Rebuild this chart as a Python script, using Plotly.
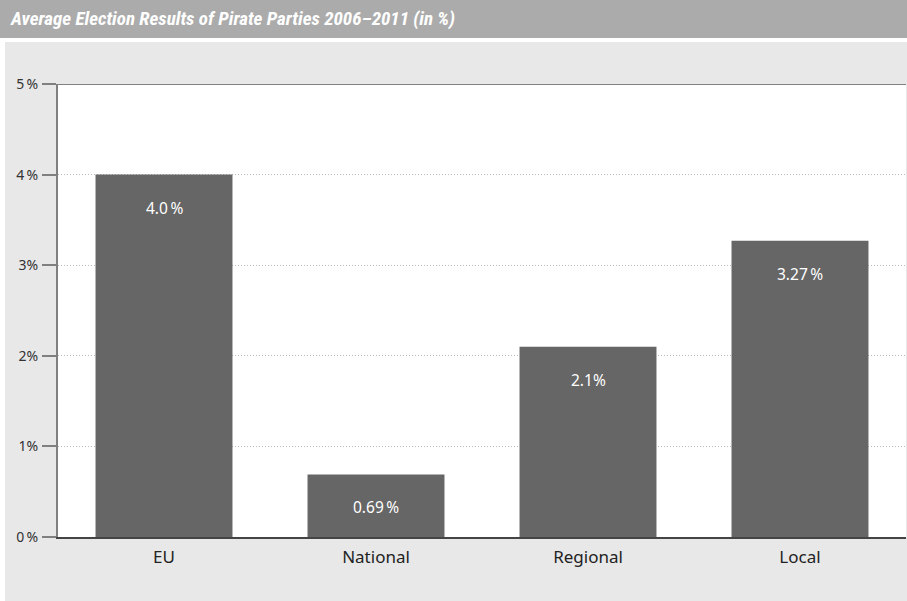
import plotly.graph_objects as go

categories = ["EU", "National", "Regional", "Local"]
values = [4.0, 0.69, 2.1, 3.27]
value_labels = ["4.0\u2009%", "0.69\u2009%", "2.1%", "3.27\u2009%"]
tick_vals = [0, 1, 2, 3, 4, 5]
tick_text = ["0\u2009%", "1%", "2%", "3%", "4\u2009%", "5\u2009%"]
title_text = "Average Election Results of Pirate Parties 2006\u20132011 (in %)"

W, H = 907, 601
L, R, T, B = 58, 1, 84, 64
pw, ph = W - L - R, H - T - B

def px(p):
    return (p - L) / pw

def py(q):
    return (H - B - q) / ph

fig = go.Figure()
fig.add_trace(go.Bar(
    x=categories, y=values, marker=dict(color="#666666", line=dict(width=0)),
    hoverinfo="skip"))

for c, v, t in zip(categories, values, value_labels):
    fig.add_annotation(x=c, y=v, text=t, showarrow=False, yanchor="middle",
                       yshift=-33, font=dict(family="Noto Sans", size=15.5, color="white"))

shapes = [
    dict(type="rect", xref="paper", yref="paper", x0=px(-2), x1=px(W + 2), y0=py(-2), y1=py(38),
         fillcolor="#ababab", line=dict(width=0), layer="below"),
    dict(type="rect", xref="paper", yref="paper", x0=px(5), x1=px(W + 2), y0=py(H + 2), y1=py(42),
         fillcolor="#e8e8e8", line=dict(width=0), layer="below"),
    dict(type="rect", xref="paper", yref="paper", x0=0, x1=1, y0=0, y1=1,
         fillcolor="white", line=dict(width=0), layer="below"),
    dict(type="line", xref="paper", yref="y", x0=0, x1=1, y0=5, y1=5,
         line=dict(color="#808080", width=2)),
]

fig.add_annotation(xref="paper", yref="paper", x=px(8), y=py(19), xanchor="left", yanchor="middle",
                   text=title_text, showarrow=False,
                   font=dict(family="Roboto Condensed, Roboto, sans-serif", size=19, color="white",
                             style="italic", weight="bold"))

fig.update_layout(
    width=W, height=H, margin=dict(l=L, r=R, t=T, b=B),
    paper_bgcolor="white", plot_bgcolor="rgba(0,0,0,0)",
    shapes=shapes, bargap=0.354, showlegend=False,
    xaxis=dict(showline=True, linecolor="#444444", linewidth=2, ticks="", showgrid=False,
               tickfont=dict(family="Noto Sans", size=17, color="#222222"), ticklabelstandoff=4),
    yaxis=dict(range=[0, 5], tickvals=tick_vals, ticktext=tick_text, showline=True,
               linecolor="#808080", linewidth=2, ticks="outside", ticklen=14, tickwidth=2,
               tickcolor="#808080", showgrid=True, gridcolor="#b8b8b8", griddash="1px,2px", gridwidth=1,
               zeroline=False, ticklabelstandoff=1,
               tickfont=dict(family="Noto Sans", size=14, color="#333333")),
)

fig.write_html("out.html", post_script="document.body.style.margin='0';",
               config={"displayModeBar": False})
